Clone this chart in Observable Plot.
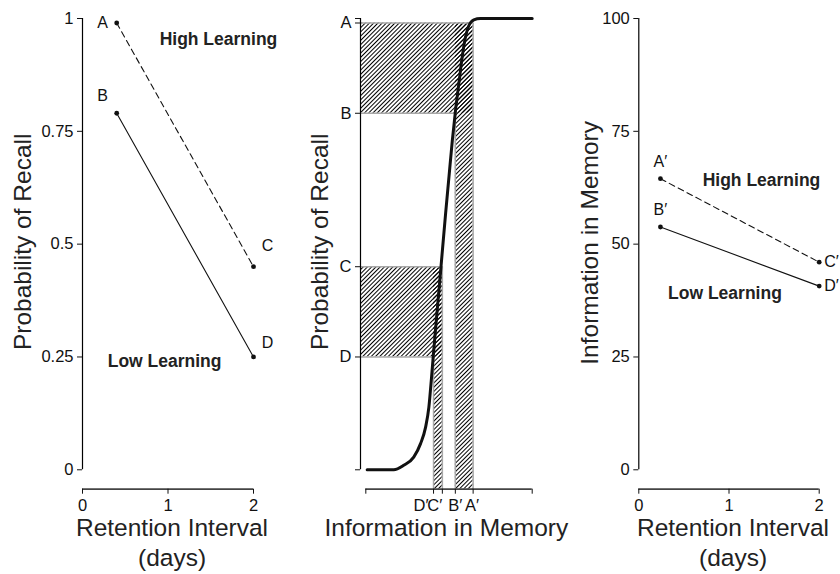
<!DOCTYPE html>
<html><head><meta charset="utf-8">
<script src="https://cdn.jsdelivr.net/npm/d3@7"></script>
<script src="https://cdn.jsdelivr.net/npm/@observablehq/plot@0.6"></script>
<style>
html,body{margin:0;padding:0;background:#fff;overflow:hidden}
#wrap{position:relative;width:840px;height:574px}
#wrap svg{position:absolute;top:0}
</style></head><body>
<svg width="0" height="0" style="position:absolute">
 <defs>
  <pattern id="hatch" patternUnits="userSpaceOnUse" width="3" height="3" patternTransform="rotate(45)">
   <line x1="0.5" y1="0" x2="0.5" y2="3" stroke="#000" stroke-width="1"/>
  </pattern>
 </defs>
</svg>
<div id="wrap"></div>
<script>
// ---- data ----
const leftDays = [0.4, 2];
const recallHigh = [0.99, 0.45];      // A, C
const recallLow = [0.79, 0.25];       // B, D
const recallHighLabels = ["A", "C"];
const recallLowLabels = ["B", "D"];
const recallTicks = [0, 0.25, 0.5, 0.75, 1];
const recallTickLabels = ["0", "0.25", "0.5", "0.75", "1"];
const dayTicks = [0, 1, 2];

const rightDays = [0.24, 2];
const infoHigh = [64.5, 46.0];        // A', C'
const infoLow = [53.8, 40.7];         // B', D'
const infoHighLabels = ["A\u2032", "C\u2032"];
const infoLowLabels = ["B\u2032", "D\u2032"];
const infoTicks = [0, 25, 50, 75, 100];

// memory-to-recall function
const curveInfo = [0.8, 16.8, 22.8, 28.8, 32.9, 35.9, 37.9, 39.5, 40.5, 42, 44, 46, 48, 50, 52, 53.9, 55.9, 57.9, 59.9, 61.9, 64.9, 68.9, 100];
const curveRecall = [0, 0, 0.01, 0.028, 0.058, 0.094, 0.139, 0.205, 0.25, 0.315, 0.4, 0.485, 0.57, 0.65, 0.73, 0.796, 0.855, 0.914, 0.959, 0.984, 0.997, 1.0, 1.0];

const font = "'Liberation Sans', Arial, Helvetica, sans-serif";
const ink = "#111";
const H = 574, MT = 18, MB = 85.3;
const recallDomain = [-0.043, 1];
const infoDomain = [-4.3, 100];
const memDomain = [-3.2, 100];
const TICK_FS = 16.5, PT_FS = 16, TITLE_FS = 24.5, NOTE_FS = 17.5;

const style = {fontFamily: font, color: ink, background: "transparent", overflow: "visible"};
const idx = a => a.map((_, i) => i);

function yAxisLine(x0, lo, hi) {
  return Plot.ruleX([x0], {x: d => d, y1: lo, y2: hi, stroke: "#000", strokeWidth: 1.2});
}
function xAxisLine(yb, lo, hi) {
  return Plot.ruleY([yb], {y: d => d, x1: lo, x2: hi, stroke: "#444", strokeWidth: 1.8});
}
function ptLabel(xs, ys, labels, i, o) {
  return Plot.text([i], {x: j => xs[j], y: j => ys[j], text: j => labels[j], fontSize: PT_FS, fill: ink, ...o});
}
function seriesMarks(xs, ys, dashed) {
  return [
    Plot.line(idx(xs), {x: i => xs[i], y: i => ys[i], stroke: ink, strokeWidth: 1.1, strokeDasharray: dashed ? "6,4" : null}),
    Plot.dot(idx(xs), {x: i => xs[i], y: i => ys[i], r: 2.4, fill: ink, stroke: "none"})
  ];
}
function xTitle(txt, dx) {
  return Plot.text([txt], {frameAnchor: "bottom", dy: 25.5, dx, textAnchor: "middle", lineAnchor: "top", lineHeight: 1.22, fontSize: TITLE_FS, fill: "#222"});
}
function yTitle(txt, dx, dy) {
  return Plot.text([txt], {frameAnchor: "left", dx, dy, textAnchor: "middle", lineAnchor: "middle", rotate: -90, fontSize: TITLE_FS, fill: "#222"});
}

// ---- left panel ----
const left = Plot.plot({
  width: 290, height: H, marginTop: MT, marginBottom: MB, marginLeft: 82, marginRight: 37,
  x: {domain: [0, 2]}, y: {domain: recallDomain}, style,
  marks: [
    yAxisLine(0, 0, 1),
    xAxisLine(recallDomain[0], 0, 2),
    Plot.axisY({ticks: recallTicks, tickFormat: d => recallTickLabels[recallTicks.indexOf(d)], tickSize: 5, tickPadding: 4, fontSize: TICK_FS, label: null}),
    Plot.axisX({ticks: dayTicks, tickFormat: d => String(d), tickSize: 5, tickPadding: 5, fontSize: TICK_FS, label: null}),
    ...seriesMarks(leftDays, recallHigh, true),
    ...seriesMarks(leftDays, recallLow, false),
    ptLabel(leftDays, recallHigh, recallHighLabels, 0, {dx: -14}),
    ptLabel(leftDays, recallLow, recallLowLabels, 0, {dx: -14, dy: -17}),
    ptLabel(leftDays, recallHigh, recallHighLabels, 1, {dx: 14, dy: -21}),
    ptLabel(leftDays, recallLow, recallLowLabels, 1, {dx: 14, dy: -14}),
    Plot.text(["High Learning"], {x: 1.59, y: 0.953, fontSize: NOTE_FS, fontWeight: "bold", fill: "#222"}),
    Plot.text(["Low Learning"], {x: 0.96, y: 0.24, fontSize: NOTE_FS, fontWeight: "bold", fill: "#222"}),
    yTitle("Probability of Recall", -59.5, -12),
    xTitle("Retention Interval\n(days)", 4)
  ]
});
left.style.left = "0px";

// ---- middle panel ----
const A = recallHigh[0], B = recallLow[0], C = recallHigh[1], D = recallLow[1];
const Ap = infoHigh[0], Bp = infoLow[0], Cp = infoHigh[1], Dp = infoLow[1];
const midYTicks = [0, D, C, B, A, 1];
const midYLabels = ["", "D", "C", "B", "A", ""];
const midXTicks = [0, Dp, Cp, Bp, Ap, 100];
const floorY = recallDomain[0], x0 = memDomain[0];
const hatch = "url(#hatch)", edge = {stroke: "#a8a8a8", strokeWidth: 1.5};
const one = [0];
const xl = {frameAnchor: "bottom", dy: 17, lineAnchor: "middle", fontSize: TICK_FS, fill: ink};
const mid = Plot.plot({
  width: 260, height: H, marginTop: MT, marginBottom: MB, marginLeft: 70, marginRight: 18.3,
  x: {domain: memDomain}, y: {domain: recallDomain}, style,
  marks: [
    Plot.rect(one, {x1: x0, x2: Ap, y1: B, y2: A, fill: hatch}),
    Plot.rect(one, {x1: Bp, x2: Ap, y1: floorY, y2: A, fill: hatch}),
    Plot.rect(one, {x1: x0, x2: Cp, y1: D, y2: C, fill: hatch}),
    Plot.rect(one, {x1: Dp, x2: Cp, y1: floorY, y2: C, fill: hatch}),
    Plot.ruleY([A], {y: d => d, x1: x0, x2: Ap, ...edge}),
    Plot.ruleY([B], {y: d => d, x1: x0, x2: Bp, ...edge}),
    Plot.ruleX([Bp], {x: d => d, y1: floorY, y2: B, ...edge}),
    Plot.ruleX([Ap], {x: d => d, y1: floorY, y2: A, ...edge}),
    Plot.ruleY([C], {y: d => d, x1: x0, x2: Cp, ...edge}),
    Plot.ruleY([D], {y: d => d, x1: x0, x2: Dp, ...edge}),
    Plot.ruleX([Dp], {x: d => d, y1: floorY, y2: D, ...edge}),
    Plot.ruleX([Cp], {x: d => d, y1: floorY, y2: C, ...edge}),
    yAxisLine(x0, 0, 1),
    xAxisLine(floorY, 0, 100),
    Plot.axisY({ticks: midYTicks, tickFormat: d => midYLabels[midYTicks.indexOf(d)], tickSize: 5, tickPadding: 4, fontSize: TICK_FS, label: null}),
    Plot.axisX({ticks: midXTicks, tickFormat: () => "", tickSize: 5, label: null}),
    Plot.text([Dp], {x: d => d, text: () => "D\u2032", dx: -5, textAnchor: "end", ...xl}),
    Plot.text([Cp], {x: d => d, text: () => "C\u2032", dx: 0, textAnchor: "end", ...xl}),
    Plot.text([Bp], {x: d => d, text: () => "B\u2032", dx: 0, textAnchor: "middle", ...xl}),
    Plot.text([Ap], {x: d => d, text: () => "A\u2032", dx: -1, textAnchor: "middle", ...xl}),
    Plot.line(idx(curveInfo), {x: i => curveInfo[i], y: i => curveRecall[i], stroke: "#111", strokeWidth: 3, curve: "monotone-x"}),
    yTitle("Probability of Recall", -40.5, -12),
    xTitle("Information in Memory", 0)
  ]
});
mid.style.left = "290px";

// ---- right panel ----
const right = Plot.plot({
  width: 290, height: H, marginTop: MT, marginBottom: MB, marginLeft: 88.3, marginRight: 21.3,
  x: {domain: [0, 2]}, y: {domain: infoDomain}, style,
  marks: [
    yAxisLine(0, 0, 100),
    xAxisLine(infoDomain[0], 0, 2),
    Plot.axisY({ticks: infoTicks, tickFormat: d => String(d), tickSize: 5, tickPadding: 4, fontSize: TICK_FS, label: null}),
    Plot.axisX({ticks: dayTicks, tickFormat: d => String(d), tickSize: 5, tickPadding: 5, fontSize: TICK_FS, label: null}),
    ...seriesMarks(rightDays, infoHigh, true),
    ...seriesMarks(rightDays, infoLow, false),
    ptLabel(rightDays, infoHigh, infoHighLabels, 0, {dy: -17}),
    ptLabel(rightDays, infoLow, infoLowLabels, 0, {dy: -17}),
    ptLabel(rightDays, infoHigh, infoHighLabels, 1, {dx: 5, textAnchor: "start"}),
    ptLabel(rightDays, infoLow, infoLowLabels, 1, {dx: 5, textAnchor: "start"}),
    Plot.text(["High Learning"], {x: 1.36, y: 64.1, fontSize: NOTE_FS, fontWeight: "bold", fill: "#222"}),
    Plot.text(["Low Learning"], {x: 0.955, y: 39.1, fontSize: NOTE_FS, fontWeight: "bold", fill: "#222"}),
    yTitle("Information in Memory", -49, -11),
    xTitle("Retention Interval\n(days)", 4)
  ]
});
right.style.left = "550px";

const wrap = document.getElementById("wrap");
wrap.append(left, mid, right);
</script>
</body></html>
